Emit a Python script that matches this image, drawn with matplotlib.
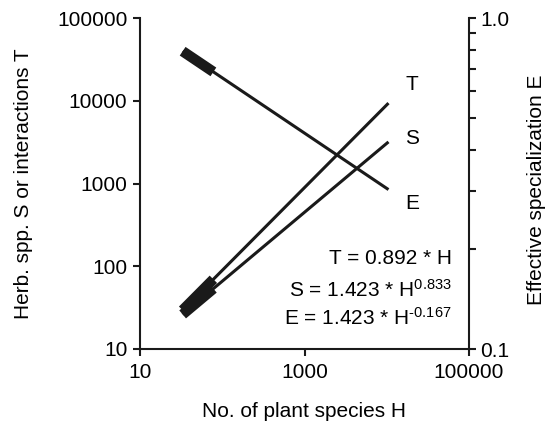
import numpy as np
import matplotlib
matplotlib.use("Agg")
import matplotlib.pyplot as plt
from matplotlib.ticker import FixedLocator, FixedFormatter, NullLocator, NullFormatter

plt.rcParams['font.family'] = ['Liberation Sans', 'DejaVu Sans']
plt.rcParams['mathtext.fontset'] = 'custom'
plt.rcParams['mathtext.rm'] = 'Liberation Sans'
plt.rcParams['mathtext.default'] = 'regular'

# Data: fitted power laws  Y = a * H^b
h_fit = [33, 10500]        # range of fitted lines (plant species H)
h_obs = [33, 78]           # observed range (thick segment)
t_coef, t_exp = 0.892, 1.0
s_coef, s_exp = 1.423, 0.833
e_coef, e_exp = 1.423, -0.167

x_ticks = [10, 1000, 100000]
x_ticklabels = ['10', '1000', '100000']
y_ticks = [10, 100, 1000, 10000, 100000]
y_ticklabels = ['10', '100', '1000', '10000', '100000']
y2_ticks = [0.1, 1.0]
y2_ticklabels = ['0.1', '1.0']
y2_minor = [0.2, 0.3, 0.4, 0.5, 0.6, 0.7, 0.8, 0.9]

def power(coef, exp, h):
    return coef * np.asarray(h, dtype=float) ** exp

fig = plt.figure(figsize=(5.49, 4.23), dpi=100)
ax = fig.add_axes([140/549, 1-349/423, 329/549, 331/423])
ax2 = ax.twinx()

lw_thin = 2.2
lw_thick = 7.5
col = '#1a1a1a'

for coef, exp in [(t_coef, t_exp), (s_coef, s_exp)]:
    ax.plot(h_fit, power(coef, exp, h_fit), color=col, lw=lw_thin, solid_capstyle='butt')
    ax.plot(h_obs, power(coef, exp, h_obs), color=col, lw=lw_thick, solid_capstyle='butt')
ax2.plot(h_fit, power(e_coef, e_exp, h_fit), color=col, lw=lw_thin, solid_capstyle='butt')
ax2.plot(h_obs, power(e_coef, e_exp, h_obs), color=col, lw=lw_thick, solid_capstyle='butt')

fs = 15
ax.set_xscale('log'); ax.set_yscale('log'); ax2.set_yscale('log')
ax.set_xlim(10, 100000); ax.set_ylim(10, 100000); ax2.set_ylim(0.1, 1.0)

ax.xaxis.set_major_locator(FixedLocator(x_ticks))
ax.xaxis.set_major_formatter(FixedFormatter(x_ticklabels))
ax.xaxis.set_minor_locator(NullLocator())
ax.yaxis.set_major_locator(FixedLocator(y_ticks))
ax.yaxis.set_major_formatter(FixedFormatter(y_ticklabels))
ax.yaxis.set_minor_locator(NullLocator())
ax2.yaxis.set_major_locator(FixedLocator(y2_ticks))
ax2.yaxis.set_major_formatter(FixedFormatter(y2_ticklabels))
ax2.yaxis.set_minor_locator(FixedLocator(y2_minor))
ax2.yaxis.set_minor_formatter(NullFormatter())

for a in (ax, ax2):
    a.spines['top'].set_visible(False)
    for sp in a.spines.values():
        sp.set_linewidth(1.5)
        sp.set_color(col)
ax.spines['right'].set_visible(False)
ax2.spines['left'].set_visible(False)
ax2.spines['bottom'].set_visible(False)

ax.tick_params(axis='x', which='major', direction='out', length=5, width=1.5,
               labelsize=fs, pad=5, color=col)
ax.tick_params(axis='y', which='major', direction='out', length=5, width=1.5,
               labelsize=fs, pad=4, color=col)
ax2.tick_params(axis='y', which='both', direction='out', length=5, width=1.5,
                labelsize=fs, pad=3, color=col)

ax.set_xlabel('No. of plant species H', fontsize=fs)
ax.set_ylabel('Herb. spp. S or interactions T', fontsize=fs)
ax2.set_ylabel('Effective specialization E', fontsize=fs)
ax.xaxis.set_label_coords(0.5, -0.16)
ax.yaxis.set_label_coords(-0.325, 0.5)
ax2.yaxis.set_label_coords(1.176, 0.48)

for lab, y in [('T', 0.798), ('S', 0.637), ('E', 0.441)]:
    ax.text(0.827, y, lab, transform=ax.transAxes, fontsize=fs, ha='center', va='center')

eqs = [('T = 0.892 * H', 0.272),
       ('S = 1.423 * H$^{0.833}$', 0.178),
       ('E = 1.423 * H$^{\u2010' + '0.167}$', 0.094)]
for s, y in eqs:
    ax.text(0.948, y, s, transform=ax.transAxes, fontsize=fs, ha='right', va='center')

fig.savefig('out.png', dpi=100)
